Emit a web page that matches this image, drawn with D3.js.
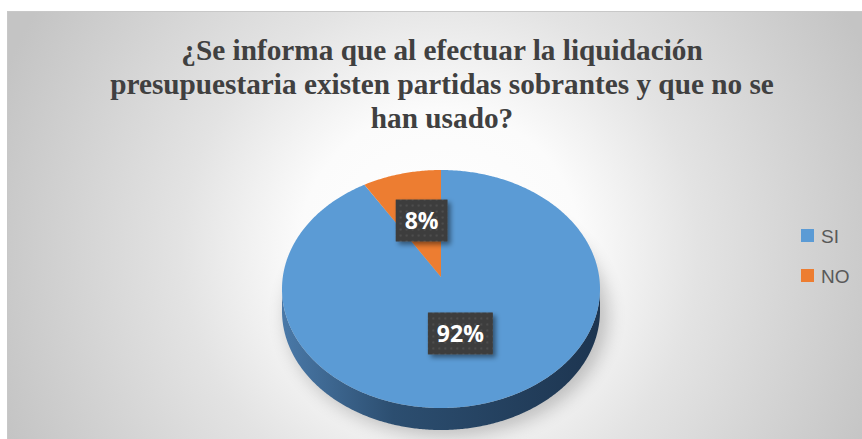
<!DOCTYPE html>
<html>
<head>
<meta charset="utf-8">
<script src="https://cdn.jsdelivr.net/npm/d3@7"></script>
<style>
  html, body { margin: 0; padding: 0; background: #ffffff; }
  svg { display: block; }
</style>
</head>
<body>
<svg id="chart" width="862" height="439"></svg>
<script>
// Survey answers
const categories = ["SI", "NO"];
const values = [92, 8];
const labels = ["92%", "8%"];
const colors = ["#5B9BD5", "#ED7D31"];
const titleLines = [
  "¿Se informa que al efectuar la liquidación",
  "presupuestaria existen partidas sobrantes y que no se",
  "han usado?"
];

const W = 862, H = 439;
const svg = d3.select("#chart");
const defs = svg.append("defs");

// Chart area background: white centre fading to grey edges
const bg = defs.append("radialGradient").attr("id", "bgGrad")
  .attr("gradientUnits", "userSpaceOnUse")
  .attr("cx", 440).attr("cy", 250).attr("r", 470);
bg.append("stop").attr("offset", "0%").attr("stop-color", "#ffffff");
bg.append("stop").attr("offset", "30%").attr("stop-color", "#fbfbfb");
bg.append("stop").attr("offset", "55%").attr("stop-color", "#e3e3e3");
bg.append("stop").attr("offset", "100%").attr("stop-color", "#c4c4c4");

svg.append("rect")
  .attr("x", 7.5).attr("y", 11.5).attr("width", W).attr("height", H)
  .attr("fill", "url(#bgGrad)")
  .attr("stroke", "#c8c8c8").attr("stroke-width", 1);

// Title
const title = svg.append("text")
  .attr("text-anchor", "middle")
  .attr("font-family", "'Liberation Serif', Tinos, 'Times New Roman', 'DejaVu Serif', serif")
  .attr("font-weight", "bold")
  .attr("font-size", 28)
  .attr("fill", "#404040");
const tspans = title.selectAll("tspan").data(titleLines).join("tspan")
  .attr("x", 442)
  .attr("y", (d, i) => 60 + i * 34)
  .text(d => d);
// size the title so the widest line spans about 664px
const widest = d3.max(tspans.nodes(), n => n.getComputedTextLength());
title.attr("font-size", 28 * 664 / widest);

// 3D pie geometry
const cx = 441, cy = 289, rx = 159, ry = 119, depth = 22;
const tipY = 277;   // projected centre of the top face
const rim = (a, dy = 0) => [cx + rx * Math.sin(a), cy - ry * Math.cos(a) + dy];

const pie = d3.pie().sort(null).startAngle(0).endAngle(2 * Math.PI);
const arcs = pie(values);

function samples(a0, a1) {
  const n = Math.max(2, Math.ceil((a1 - a0) / 0.01));
  return d3.range(n + 1).map(i => a0 + (a1 - a0) * i / n);
}
const line = d3.line();

// Soft shadow under the pie
const shadowF = defs.append("filter").attr("id", "pieShadow")
  .attr("x", "-20%").attr("y", "-20%").attr("width", "140%").attr("height", "140%");
shadowF.append("feGaussianBlur").attr("stdDeviation", 9);
svg.append("ellipse")
  .attr("cx", cx + 6).attr("cy", cy + depth + 4)
  .attr("rx", rx + 2).attr("ry", ry + 2)
  .attr("fill", "#000").attr("opacity", 0.22)
  .attr("filter", "url(#pieShadow)");

// Side wall (visible front half only)
const side = defs.append("linearGradient").attr("id", "sideGrad")
  .attr("x1", "0%").attr("x2", "100%").attr("y1", "0%").attr("y2", "0%");
side.append("stop").attr("offset", "0%").attr("stop-color", "#4a79a8");
side.append("stop").attr("offset", "35%").attr("stop-color", "#2c4e70");
side.append("stop").attr("offset", "100%").attr("stop-color", "#1d3550");

const sideColorsDark = ["url(#sideGrad)", "#a9561d"];
arcs.forEach((a, i) => {
  const s = Math.max(a.startAngle, Math.PI / 2);
  const e = Math.min(a.endAngle, 3 * Math.PI / 2);
  if (e <= s) return;
  const top = samples(s, e).map(t => rim(t));
  const bottom = samples(s, e).reverse().map(t => rim(t, depth));
  svg.append("path")
    .attr("d", line(top.concat(bottom)) + "Z")
    .attr("fill", sideColorsDark[i]);
});

// Top face slices
svg.selectAll("path.slice").data(arcs).join("path")
  .attr("class", "slice")
  .attr("d", d => line([[cx, tipY]].concat(samples(d.startAngle, d.endAngle).map(t => rim(t)))) + "Z")
  .attr("fill", (d, i) => colors[i]);

// Data labels: dark dotted boxes with drop shadow
const dots = defs.append("pattern").attr("id", "dots")
  .attr("width", 6).attr("height", 6).attr("patternUnits", "userSpaceOnUse");
dots.append("rect").attr("width", 6).attr("height", 6).attr("fill", "#3d3d3d");
dots.append("circle").attr("cx", 3).attr("cy", 3).attr("r", 0.9).attr("fill", "#565656");

const lblShadow = defs.append("filter").attr("id", "lblShadow")
  .attr("x", "-30%").attr("y", "-30%").attr("width", "170%").attr("height", "170%");
lblShadow.append("feDropShadow").attr("dx", 3).attr("dy", 3)
  .attr("stdDeviation", 2.5).attr("flood-color", "#000").attr("flood-opacity", 0.45);

const f = 0.49;
arcs.forEach((a, i) => {
  const mid = (a.startAngle + a.endAngle) / 2;
  const lx = cx + rx * Math.sin(mid) * f;
  const ly = tipY - ry * Math.cos(mid) * f;
  const g = svg.append("g").attr("transform", `translate(${lx},${ly})`);
  const rect = g.append("rect").attr("fill", "url(#dots)").attr("filter", "url(#lblShadow)");
  const t = g.append("text")
    .attr("text-anchor", "middle").attr("dy", "0.35em")
    .attr("font-family", "'Open Sans', sans-serif").attr("font-weight", "bold")
    .attr("font-size", 23).attr("fill", "#ffffff")
    .text(labels[i]);
  const w = t.node().getComputedTextLength() + 18, h = 42;
  rect.attr("x", -w / 2).attr("y", -h / 2).attr("width", w).attr("height", h);
});

// Legend
const legend = svg.append("g").attr("transform", "translate(801,229)");
const items = legend.selectAll("g").data(categories).join("g")
  .attr("transform", (d, i) => `translate(0,${i * 40})`);
items.append("rect").attr("width", 13).attr("height", 13).attr("fill", (d, i) => colors[i]);
items.append("text")
  .attr("x", 20).attr("y", 13.5)
  .attr("font-family", "'Liberation Sans', Arial, sans-serif")
  .attr("font-size", 19).attr("fill", "#595959")
  .text(d => d);
</script>
</body>
</html>
